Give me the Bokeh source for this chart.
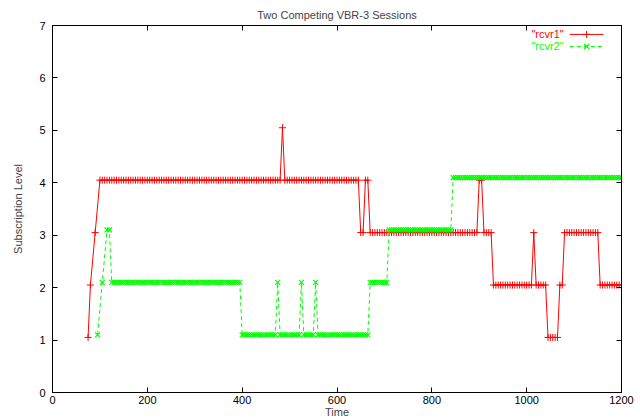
from bokeh.plotting import figure
from bokeh.models import LinearAxis, Range1d, FixedTicker, Label
from bokeh.embed import file_html
from bokeh.resources import INLINE

# ---- data ----
# sampling step of the recorded trace (seconds)
STEP = 5

# rcvr1: runs of constant subscription level (start time, end time, value)
rcvr1_start = [75, 80, 90, 100, 485, 490, 650, 660, 670, 900, 910, 930, 1015, 1020, 1045, 1070, 1080, 1155]
rcvr1_end   = [75, 80, 90, 480, 485, 645, 655, 665, 895, 905, 925, 1010, 1015, 1040, 1065, 1075, 1150, 1200]
rcvr1_value = [1.05, 2.05, 3.05, 4.05, 5.05, 4.05, 3.05, 4.05, 3.05, 4.05, 3.05, 2.05, 3.05, 2.05, 1.05, 2.05, 3.05, 2.05]

# rcvr2
rcvr2_start = [95, 105, 115, 125, 400, 475, 480, 525, 530, 555, 560, 670, 710, 845]
rcvr2_end   = [95, 105, 120, 395, 470, 475, 520, 525, 550, 555, 665, 705, 840, 1200]
rcvr2_value = [1.1, 2.1, 3.1, 2.1, 1.1, 2.1, 1.1, 2.1, 1.1, 2.1, 1.1, 2.1, 3.1, 4.1]

x_ticks = [0, 200, 400, 600, 800, 1000, 1200]
y_ticks = [0, 1, 2, 3, 4, 5, 6, 7]


def expand(starts, ends, values):
    xs, ys = [], []
    for s, e, v in zip(starts, ends, values):
        for t in range(s, e + 1, STEP):
            xs.append(t)
            ys.append(v)
    return xs, ys


x1, y1 = expand(rcvr1_start, rcvr1_end, rcvr1_value)
x2, y2 = expand(rcvr2_start, rcvr2_end, rcvr2_value)

RED = "#ff0000"
GREEN = "#00ff00"
FONT = "Liberation Sans"
FS = "11px"

p = figure(width=640, height=420, output_backend="svg", toolbar_location=None,
           x_range=Range1d(0, 1200), y_range=Range1d(0, 7),
           title="Two Competing VBR-3 Sessions",
           min_border_left=52, min_border_right=19, min_border_top=25, min_border_bottom=0,
           x_axis_type=None, y_axis_type=None)

p.title.align = "center"
p.title.text_font = FONT
p.title.text_font_style = "normal"
p.title.text_font_size = FS
p.title.standoff = 9
p.grid.visible = False
p.outline_line_color = "black"
p.outline_line_width = 1


def make_axis(ticker_vals, show_labels, label=None, label_standoff=3, axis_label_standoff=0):
    ax = LinearAxis(ticker=FixedTicker(ticks=ticker_vals))
    ax.major_tick_in = 5
    ax.major_tick_out = 0
    ax.minor_tick_line_color = None
    ax.axis_line_color = "black"
    ax.major_tick_line_color = "black"
    ax.major_label_text_font = FONT
    if show_labels:
        ax.major_label_text_color = "black"
        ax.major_label_text_font_size = FS
        ax.major_label_standoff = label_standoff
    else:
        ax.major_label_text_color = None
        ax.major_label_text_font_size = "0px"
        ax.major_label_standoff = 0
    if label:
        ax.axis_label = label
        ax.axis_label_text_font = FONT
        ax.axis_label_text_font_style = "normal"
        ax.axis_label_text_font_size = FS
        ax.axis_label_standoff = axis_label_standoff
    return ax


p.add_layout(make_axis(x_ticks, True, "Time", label_standoff=3, axis_label_standoff=-1), "below")
p.add_layout(make_axis(x_ticks, False), "above")
p.add_layout(make_axis(y_ticks, True, "Subscription Level", label_standoff=7, axis_label_standoff=12), "left")
p.add_layout(make_axis(y_ticks, False), "right")

# series
p.line(x1, y1, line_color=RED, line_width=1)
p.scatter(x1, y1, marker="cross", size=7, line_color=RED, line_width=1)
p.line(x2, y2, line_color=GREEN, line_width=1, line_dash="4 3")
p.scatter(x2, y2, marker="x", size=7, line_color=GREEN, line_width=1.2)

# legend (label on the left, sample on the right, as gnuplot draws it)
LEG_TEXT_X = 1078
LEG_LINE_X0, LEG_LINE_X1 = 1091, 1162
LEG_ROWS = [6.83, 6.6]

p.add_layout(Label(x=LEG_TEXT_X, y=LEG_ROWS[0], text='"rcvr1"', text_align="right",
                   text_baseline="middle", text_color=RED, text_font=FONT, text_font_size=FS))
p.add_layout(Label(x=LEG_TEXT_X, y=LEG_ROWS[1], text='"rcvr2"', text_align="right",
                   text_baseline="middle", text_color=GREEN, text_font=FONT, text_font_size=FS))
p.line([LEG_LINE_X0, LEG_LINE_X1], [LEG_ROWS[0]] * 2, line_color=RED, line_width=1)
p.scatter([(LEG_LINE_X0 + LEG_LINE_X1) / 2], [LEG_ROWS[0]], marker="cross", size=7, line_color=RED)
p.line([LEG_LINE_X0, LEG_LINE_X1], [LEG_ROWS[1]] * 2, line_color=GREEN, line_width=1, line_dash="4 3")
p.scatter([(LEG_LINE_X0 + LEG_LINE_X1) / 2], [LEG_ROWS[1]], marker="x", size=7, line_color=GREEN, line_width=1.2)

open("out.html", "w").write(file_html(p, INLINE))
